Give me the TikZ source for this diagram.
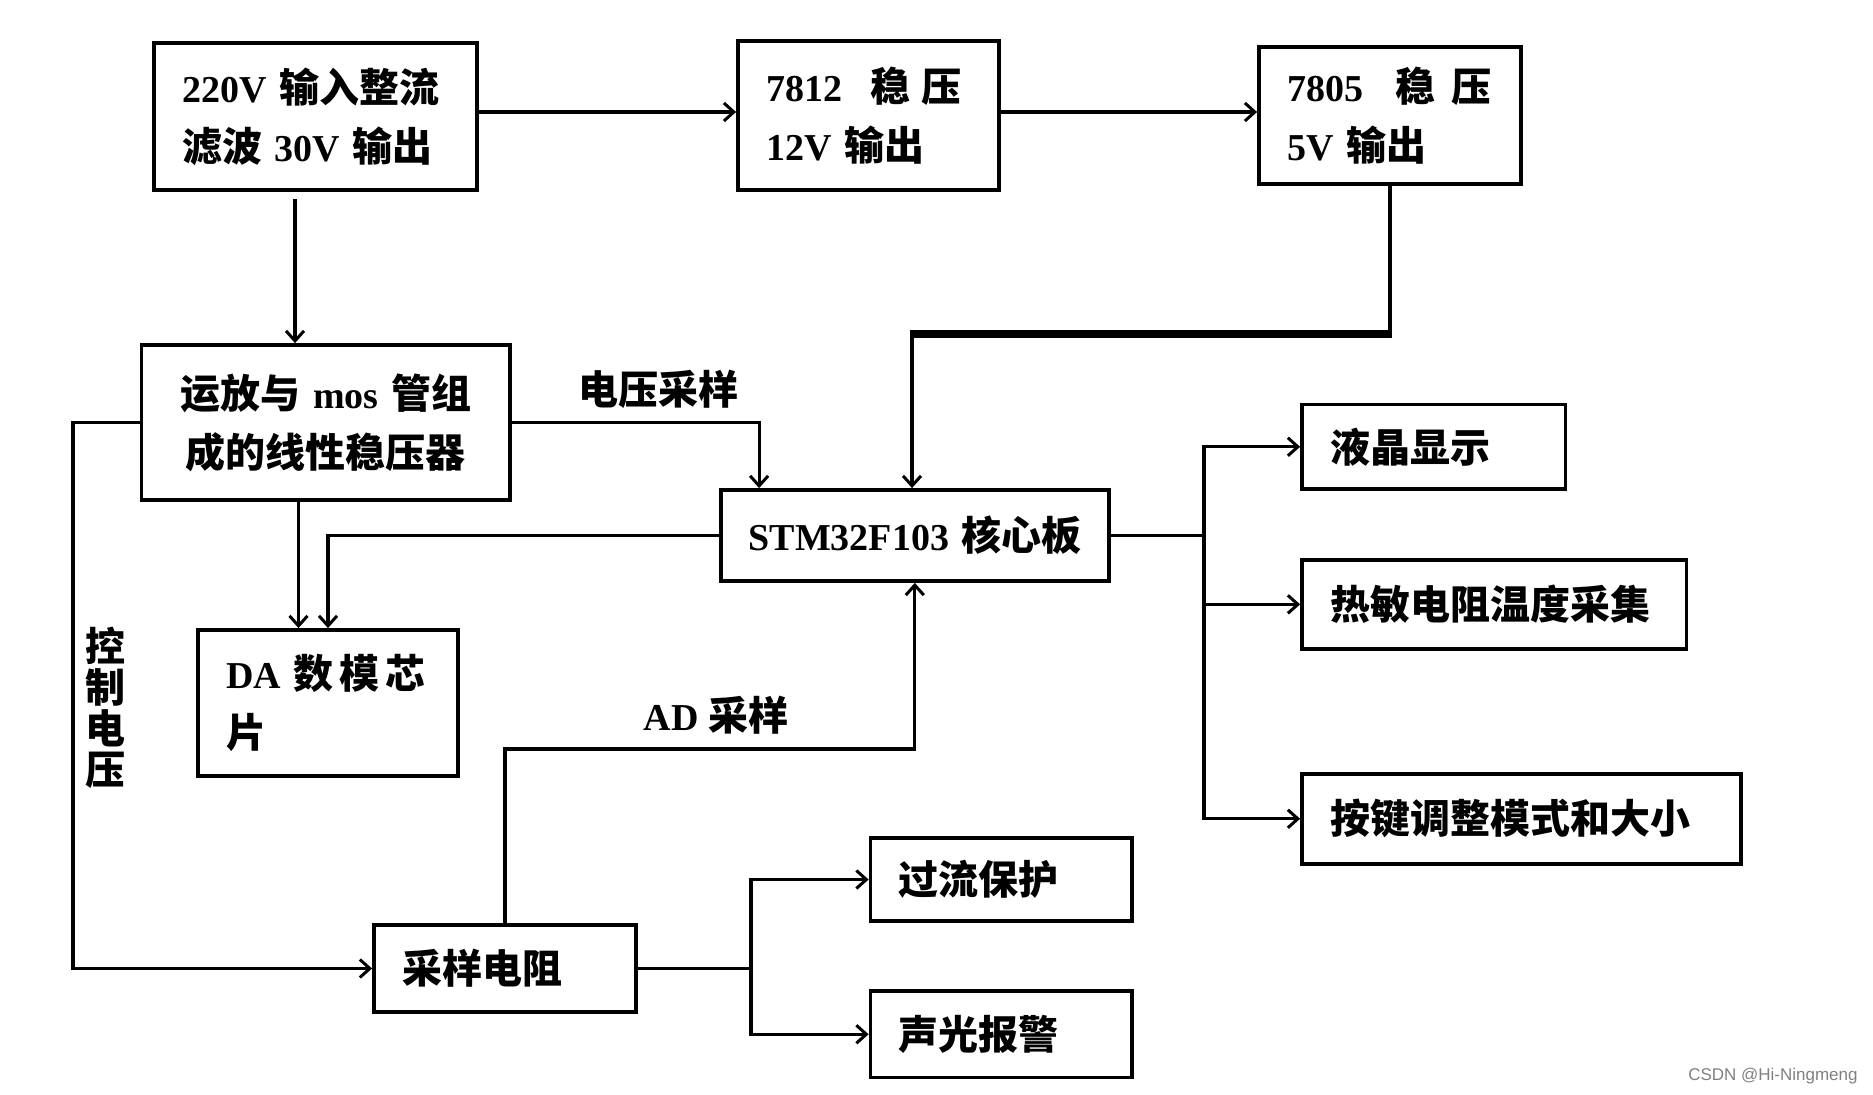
\documentclass[tikz,border=0pt]{standalone}
\usepackage{fontspec}
\setmainfont{Liberation Serif}
\newfontfamily\cjk{Noto Sans CJK SC}
\newfontfamily\wmfont{Liberation Sans}
\usetikzlibrary{arrows.meta,calc}
\newcommand\zh[1]{{\cjk\fontsize{20}{29.5}\selectfont #1}}
\tikzset{
  box/.style={draw, line width=1.9pt, inner xsep=14pt, inner ysep=0pt, align=left,
    font=\fontsize{19}{29.5}\selectfont\bfseries},
  conn/.style={line width=1.6pt},
  arr/.style={conn, -{Straight Barb[length=5pt,width=9pt,line width=1.5pt]}},
  lbl/.style={inner sep=0pt, font=\fontsize{19}{29.5}\selectfont\bfseries},
}
\newcommand\mkbox[7]{%
  \pgfmathsetmacro\bw{(#5-#3)*0.5}%
  \pgfmathsetmacro\bh{(#6-#4)*0.5}%
  \pgfmathsetmacro\tw{\bw-28}%
  \node[box,minimum width=\bw pt,minimum height=\bh pt,text width=\tw pt,#1] (#2) at ({(#3+#5)/2},{(#4+#6)/2}) {#7};}
\begin{document}
\begin{tikzpicture}[x=0.5pt,y=-0.5pt]
\useasboundingbox (0,0) rectangle (1873,1095);
\mkbox{}{b1}{154}{43}{477}{190}{220V \zh{输入整流}\\\zh{滤波} 30V \zh{输出}}
\mkbox{}{b2}{738}{41}{999}{190}{7812\hspace{14pt}\zh{稳}\hspace{6pt}\zh{压}\\12V \zh{输出}}
\mkbox{}{b3}{1259}{47}{1521}{184}{7805\hspace{16pt}\zh{稳}\hspace{8pt}\zh{压}\\5V \zh{输出}}
\mkbox{align=center}{reg}{141.5}{345}{510}{500}{\zh{运放与} mos \zh{管组}\\\zh{成的线性稳压器}}
\mkbox{}{stm}{720.6}{490}{1109}{581}{\mbox{STM32F103 \zh{核心板}}}
\mkbox{}{da}{198}{630}{458}{776}{DA \zh{数\hspace{3pt}模\hspace{3pt}芯}\\\zh{片}}
\mkbox{}{cy}{374}{925}{636}{1012}{\zh{采样电阻}}
\mkbox{}{gl}{870.5}{838}{1132}{921}{\zh{过流保护}}
\mkbox{}{sg}{870.5}{991}{1132}{1077.5}{\zh{声光报警}}
\mkbox{}{lcd}{1302}{404.6}{1565.5}{489}{\zh{液晶显示}}
\mkbox{}{th}{1302}{560}{1686.5}{648.7}{\zh{热敏电阻温度采集}}
\mkbox{}{key}{1302}{773.6}{1741}{864}{\zh{按键调整模式和大小}}

\coordinate (h1) at (0,112);
\draw[arr] (b1.east |- h1) -- (b2.west |- h1);
\draw[arr] (b2.east |- h1) -- (b3.west |- h1);

\coordinate (k1) at (1389,334);
\coordinate (k2) at (912,334);
\draw[conn] (b3.south) -- (b3.south |- k1);
\draw[line width=4pt] ([xshift=0.8pt]b3.south |- k1) -- ([xshift=-0.8pt]k2);
\draw[arr] (k2) -- (k2 |- stm.north);

\coordinate (v1) at ([xshift=-10.25pt,yshift=-3.5pt]b1.south);
\draw[arr] (v1) -- (v1 |- reg.north);

\draw[arr] (reg.east) -| ([xshift=20.2pt]stm.north west);

\coordinate (cv) at (73,418);
\draw[arr] (reg.west) -- (reg.west -| cv) |- (cy.west);

\draw[arr] (stm.west) -| (da.north);
\coordinate (dv) at ([xshift=-14.75pt]da.north);
\draw[arr] (dv |- reg.south) -- (dv);

\coordinate (ad) at (0,749);
\draw[arr] (cy.north) -- (cy.north |- ad) -| (stm.south);

\coordinate (cb) at (751,0);
\draw[conn] (cy.east) -- (cy.east -| cb);
\draw[arr] (cy.east -| cb) |- (gl.west);
\draw[arr] (cy.east -| cb) |- (sg.west);

\coordinate (sb) at (1204,0);
\draw[conn] (stm.east) -- (stm.east -| sb);
\draw[arr] (stm.east -| sb) |- (lcd.west);
\draw[arr] (stm.east -| sb) |- (th.west);
\draw[arr] (stm.east -| sb) |- (key.west);

\node[lbl] (l1) at (658,389) {\zh{电压采样}};
\node[lbl] (l2) at (716,715) {AD \zh{采样}};
\node[lbl, align=center, font=\fontsize{20}{20.5}\selectfont\bfseries] (l3) at (105,708) {\zh{控}\\\zh{制}\\\zh{电}\\\zh{压}};
\node[anchor=east, inner sep=0pt, text=gray, font=\wmfont\fontsize{8.5}{10}\selectfont] (wm) at (1858,1076) {CSDN @Hi-Ningmeng};
\end{tikzpicture}
\end{document}
